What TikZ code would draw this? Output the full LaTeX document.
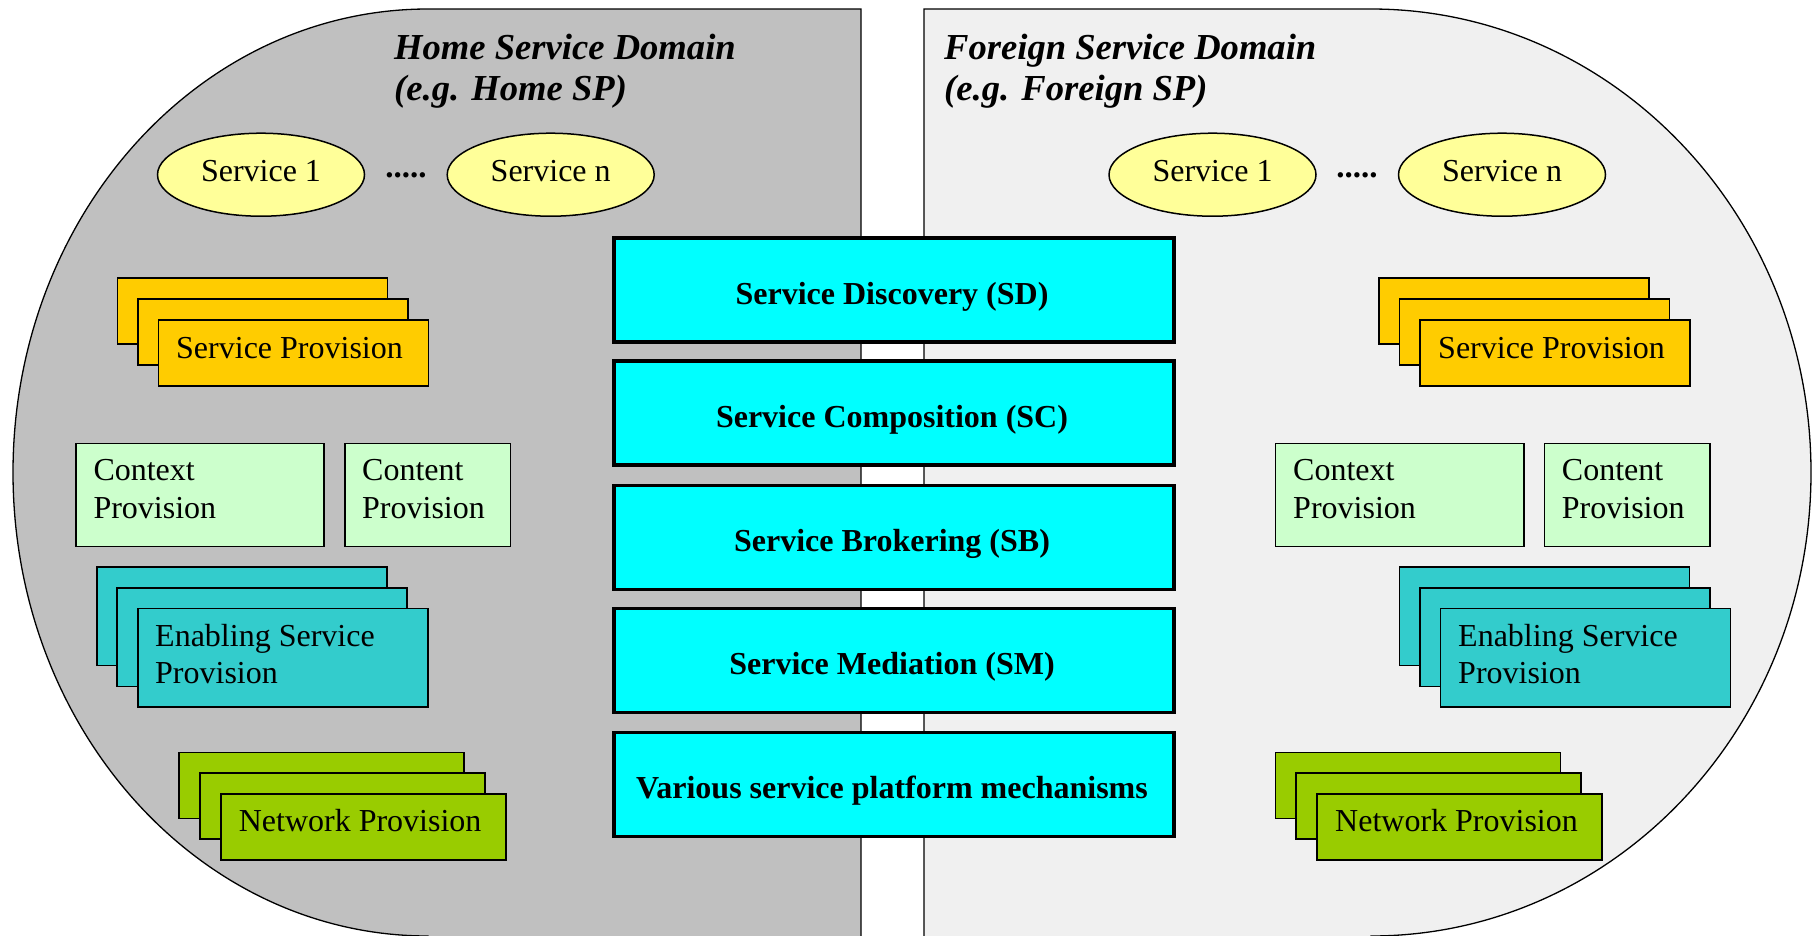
\documentclass[tikz,border=0pt]{standalone}
\usepackage{fontspec}
\setmainfont{Liberation Serif}
\usetikzlibrary{shapes.geometric}
\definecolor{homegray}{HTML}{C0C0C0}
\definecolor{foreigngray}{HTML}{F0F0F0}
\definecolor{svcyellow}{HTML}{FFFF99}
\definecolor{provorange}{HTML}{FFCC00}
\definecolor{ctxgreen}{HTML}{CCFFCC}
\definecolor{enabteal}{HTML}{33CCCC}
\definecolor{netgreen}{HTML}{99CC00}
\definecolor{layercyan}{HTML}{00FFFF}
\begin{document}
\begin{tikzpicture}[x=1pt,y=-1pt,
  dom/.style={draw=black, line width=1.3pt},
  card/.style={draw=black, line width=1.5pt, anchor=north west, inner sep=0pt, rectangle},
  sp/.style={card, fill=provorange, minimum width=270pt, minimum height=66pt},
  cx/.style={card, fill=ctxgreen, minimum height=103pt},
  en/.style={card, fill=enabteal, minimum width=290pt, minimum height=98.5pt},
  nw/.style={card, fill=netgreen, minimum width=285pt, minimum height=66pt},
  svc/.style={draw=black, line width=1.5pt, ellipse, fill=svcyellow, minimum width=207pt, minimum height=83pt, inner sep=0pt},
  layer/.style={draw=black, line width=3.5pt, fill=layercyan, anchor=north west, minimum width=560pt, minimum height=104pt, inner sep=0pt},
  txt/.style={anchor=base west, inner sep=0pt, font=\fontsize{32}{37}\selectfont},
  ctxt/.style={anchor=base, inner sep=0pt, font=\fontsize{32}{37}\selectfont},
  dots/.style={anchor=base, inner sep=0pt, font=\bfseries\fontsize{33}{37}\selectfont},
  ltxt/.style={anchor=base, inner sep=0pt, font=\bfseries\fontsize{32}{37}\selectfont},
  title/.style={anchor=base west, inner sep=0pt, font=\bfseries\itshape\fontsize{36.6}{41}\selectfont}]
\useasboundingbox (0,0) rectangle (1816,935);

% domains
\path[dom, fill=homegray] (861,950) -- (861,9) -- (428,9)
  .. controls (198.8,9) and (13,216.5) .. (13,472.5)
  .. controls (13,728.5) and (198.8,936) .. (428,936) -- (428,950) -- cycle;
\path[dom, fill=foreigngray] (924,950) -- (924,9) -- (1371,9)
  .. controls (1614,9) and (1811,216.5) .. (1811,472.5)
  .. controls (1811,728.5) and (1614,936) .. (1371,936) -- (1371,950) -- cycle;

% titles
\node[title] (ht1) at (394,59.3) {Home Service Domain};
\node[title] (ht2) at (394,100.3) {(e.g. Home SP)};
\node[title] (ft1) at (944,59.3) {Foreign Service Domain};
\node[title] (ft2) at (944,100.3) {(e.g. Foreign SP)};

% services
\node[svc] (hs1) at (261,174.7) {};
\node[ctxt] (hs1t) at (261,181.7) {Service 1};
\node[dots] (hdots) at (406,177.5) {.....};
\node[svc] (hsn) at (550.7,174.7) {};
\node[ctxt] (hsnt) at (550.7,181.7) {Service n};
\node[svc] (fs1) at (1212.5,174.7) {};
\node[ctxt] (fs1t) at (1212.5,181.7) {Service 1};
\node[dots] (fdots) at (1357,177.5) {.....};
\node[svc] (fsn) at (1502,174.7) {};
\node[ctxt] (fsnt) at (1502,181.7) {Service n};

% home side cards
\node[sp] (hsp1) at (116.5,277.3) {};
\node[sp] (hsp2) at (137.3,298.3) {};
\node[sp] (hsp3) at (157.7,319) {};
\node[txt] (hspt) at (176,358.3) {Service Provision};

\node[cx, minimum width=248pt] (hctx) at (75,442.7) {};
\node[txt] (hctxa) at (93.3,480.7) {Context};
\node[txt] (hctxb) at (93.3,518.3) {Provision};
\node[cx, minimum width=165.5pt] (hcnt) at (344,442.7) {};
\node[txt] (hcnta) at (362,480.7) {Content};
\node[txt] (hcntb) at (362,518.3) {Provision};

\node[en] (hen1) at (96,566) {};
\node[en] (hen2) at (116.4,587) {};
\node[en] (hen3) at (137,607.7) {};
\node[txt] (henta) at (155,646) {Enabling Service};
\node[txt] (hentb) at (155,683.3) {Provision};

\node[nw] (hnw1) at (178,751.7) {};
\node[nw] (hnw2) at (199,772) {};
\node[nw] (hnw3) at (220,793) {};
\node[txt] (hnwt) at (238.6,831.7) {Network Provision};

% foreign side cards
\node[sp] (fsp1) at (1378,277.3) {};
\node[sp] (fsp2) at (1398.7,298.3) {};
\node[sp] (fsp3) at (1419.3,319) {};
\node[txt] (fspt) at (1438,358.3) {Service Provision};

\node[cx, minimum width=248.5pt] (fctx) at (1274.5,442.7) {};
\node[txt] (fctxa) at (1293,480.7) {Context};
\node[txt] (fctxb) at (1293,518.3) {Provision};
\node[cx, minimum width=165.6pt] (fcnt) at (1543.7,442.7) {};
\node[txt] (fcnta) at (1561.7,480.7) {Content};
\node[txt] (fcntb) at (1561.7,518.3) {Provision};

\node[en] (fen1) at (1398.5,566) {};
\node[en] (fen2) at (1419,587) {};
\node[en] (fen3) at (1439.5,607.7) {};
\node[txt] (fenta) at (1458,646) {Enabling Service};
\node[txt] (fentb) at (1458,683.3) {Provision};

\node[nw] (fnw1) at (1274.5,751.7) {};
\node[nw] (fnw2) at (1295,772) {};
\node[nw] (fnw3) at (1316,793) {};
\node[txt] (fnwt) at (1335,831.7) {Network Provision};

% central layers
\node[layer] (sd) at (612,236) {};
\node[ltxt] (sdt) at (892,304.3) {Service Discovery (SD)};
\node[layer] (sc) at (612,359.3) {};
\node[ltxt] (sct) at (892,427.5) {Service Composition (SC)};
\node[layer] (sb) at (612,483.7) {};
\node[ltxt] (sbt) at (892,551.7) {Service Brokering (SB)};
\node[layer] (sm) at (612,606.7) {};
\node[ltxt] (smt) at (892,674.7) {Service Mediation (SM)};
\node[layer] (vs) at (612,730.7) {};
\node[ltxt] (vst) at (892,798.7) {Various service platform mechanisms};
\end{tikzpicture}
\end{document}
